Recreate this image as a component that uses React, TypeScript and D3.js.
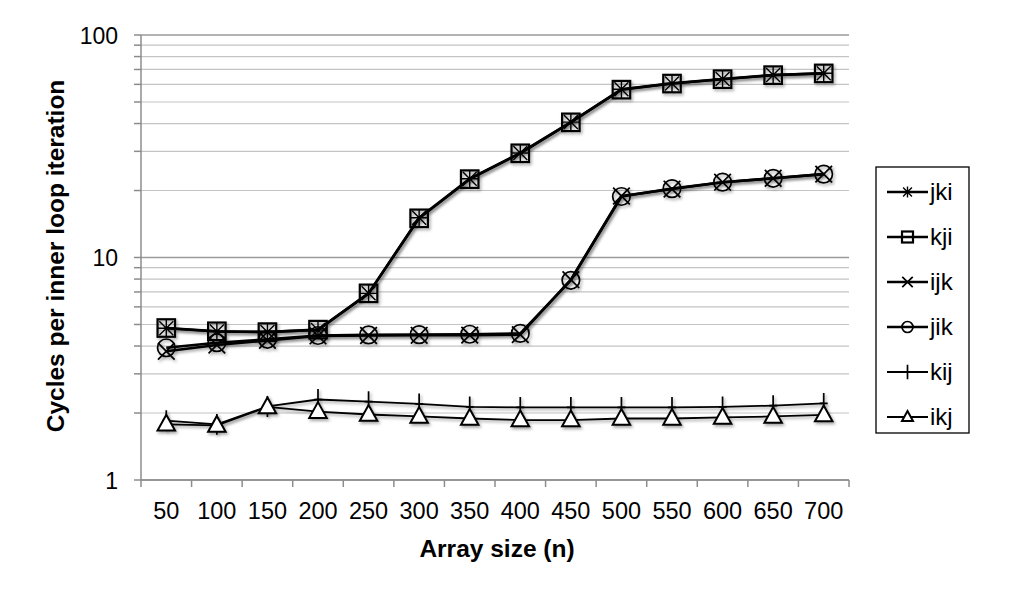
import React from "react";
import * as d3 from "d3";

const categories = ["50", "100", "150", "200", "250", "300", "350", "400", "450", "500", "550", "600", "650", "700"];
const seriesNames = ["jki", "kji", "ijk", "jik", "kij", "ikj"];
const jki = [4.81, 4.65, 4.63, 4.72, 6.9, 15.1, 22.6, 29.5, 40.6, 57, 60.6, 63.4, 66.1, 67.3];
const kji = [4.82, 4.66, 4.62, 4.74, 6.9, 15.0, 22.5, 29.4, 40.5, 56.8, 60.5, 63.3, 66.0, 67.2];
const ijk = [3.79, 4.04, 4.24, 4.44, 4.46, 4.47, 4.48, 4.5, 7.95, 18.9, 20.3, 21.8, 22.7, 23.7];
const jik = [3.93, 4.14, 4.29, 4.46, 4.49, 4.5, 4.52, 4.56, 7.9, 18.8, 20.4, 21.8, 22.7, 23.7];
const kij = [1.85, 1.78, 2.14, 2.3, 2.25, 2.2, 2.13, 2.12, 2.12, 2.12, 2.12, 2.13, 2.16, 2.21];
const ikj = [1.78, 1.76, 2.13, 2.03, 1.97, 1.93, 1.89, 1.86, 1.86, 1.89, 1.89, 1.91, 1.93, 1.96];
const yTickValues = [1, 10, 100];

const seriesValues = [jki, kji, ijk, jik, kij, ikj];
const markerKinds = ["asterisk", "square", "x", "circle", "plus", "triangle"];
const lineWidths = [2.6, 2.6, 2.6, 2.6, 1.8, 1.8];

const W = 1016, H = 590;
const M = { left: 141, right: 849, top: 35, bottom: 480 };
const FONT = "'Liberation Sans', Arial, Helvetica, sans-serif";

function Marker({ kind, x, y, s }: { kind: string; x: number; y: number; s: number }) {
  const h = s / 2;
  const common = { fill: "none", stroke: "#000", strokeWidth: 1.7 };
  if (kind === "square") return <rect x={x - h} y={y - h} width={s} height={s} {...common} strokeWidth={2.2} />;
  if (kind === "circle") return <circle cx={x} cy={y} r={h} {...common} />;
  if (kind === "x") {
    const d = h * 0.95;
    return <path d={`M${x - d},${y - d}L${x + d},${y + d}M${x - d},${y + d}L${x + d},${y - d}`} {...common} />;
  }
  if (kind === "plus") {
    const v = h * 1.3;
    return <path d={`M${x},${y - v}L${x},${y + v}M${x - h * 0.5},${y}L${x + h * 0.5},${y}`} {...common} />;
  }
  if (kind === "asterisk") {
    const d = h * 0.8;
    return (
      <path
        d={`M${x - d},${y - d}L${x + d},${y + d}M${x - d},${y + d}L${x + d},${y - d}M${x},${y - h}L${x},${y + h}M${x - h},${y}L${x + h},${y}`}
        {...common}
        strokeWidth={1.4}
      />
    );
  }
  if (kind === "triangle") {
    const th = s * 0.9;
    return (
      <path
        d={`M${x},${y - th * 0.6}L${x + h},${y + th * 0.4}L${x - h},${y + th * 0.4}Z`}
        fill="#fff"
        stroke="#000"
        strokeWidth={2}
      />
    );
  }
  return null;
}

export default function App() {
  const x = d3.scaleBand().domain(categories).range([M.left, M.right]).padding(0);
  const y = d3.scaleLog().domain([1, 100]).range([M.bottom, M.top]);
  const cx = (c: string) => (x(c) as number) + x.bandwidth() / 2;

  const gridVals: number[] = [];
  for (let dec = 1; dec < 100; dec *= 10) for (let k = 1; k <= 9; k++) gridVals.push(dec * k);
  gridVals.push(100);

  const line = d3
    .line<number>()
    .x((_, i) => cx(categories[i]))
    .y((v) => y(v));

  const xBoundaries = categories.map((c) => x(c) as number).concat([M.right]);

  const legendX = 876, legendY = 167, legendW = 93, legendH = 266;
  const legendStep = 45;

  return (
    <svg width={W} height={H} style={{ position: "absolute", left: 0, top: 0 }} fontFamily={FONT}>
      <defs>
        <filter id="sh" x="-10%" y="-10%" width="130%" height="140%">
          <feDropShadow dx="1.5" dy="2" stdDeviation="1.4" floodColor="#000" floodOpacity="0.35" />
        </filter>
      </defs>
      <rect x={0} y={0} width={W} height={H} fill="#fff" />
      {gridVals.map((g, i) => {
        const major = yTickValues.includes(g);
        return (
          <g key={i}>
            <line x1={M.left} x2={M.right} y1={y(g)} y2={y(g)} stroke={major ? "#9a9a9a" : "#c4c4c4"} strokeWidth={major ? 1.5 : 1.2} />
            <line x1={M.left - 7} x2={M.left} y1={y(g)} y2={y(g)} stroke="#8c8c8c" strokeWidth={1.5} />
          </g>
        );
      })}
      <line x1={M.left} x2={M.left} y1={M.top} y2={M.bottom} stroke="#8c8c8c" strokeWidth={1.5} />
      <line x1={M.left} x2={M.right} y1={M.bottom} y2={M.bottom} stroke="#8c8c8c" strokeWidth={1.5} />
      {xBoundaries.map((b, i) => (
        <line key={i} x1={b} x2={b} y1={M.bottom} y2={M.bottom + 7} stroke="#8c8c8c" strokeWidth={1.5} />
      ))}
      {yTickValues.map((t) => (
        <text key={t} x={118} y={y(t) + 8.5} textAnchor="end" fontSize={23} fill="#000">
          {t}
        </text>
      ))}
      {categories.map((c) => (
        <text key={c} x={cx(c)} y={519} textAnchor="middle" fontSize={23.5} fill="#000">
          {c}
        </text>
      ))}
      <text x={497} y={557} textAnchor="middle" fontSize={24.5} fontWeight="bold">
        Array size (n)
      </text>
      <text transform={`translate(64,256) rotate(-90)`} textAnchor="middle" fontSize={24.5} fontWeight="bold">
        Cycles per inner loop iteration
      </text>

      {seriesValues.map((vals, si) => (
        <g key={si} filter="url(#sh)">
          <path d={line(vals) || ""} fill="none" stroke="#000" strokeWidth={lineWidths[si]} strokeLinejoin="round" />
          {vals.map((v, i) => (
            <Marker key={i} kind={markerKinds[si]} x={cx(categories[i])} y={y(v)} s={markerKinds[si] === "plus" ? 16 : 17.5} />
          ))}
        </g>
      ))}

      <rect x={legendX} y={legendY} width={legendW} height={legendH} fill="#fff" stroke="#000" strokeWidth={1.3} />
      {seriesNames.map((n, i) => {
        const ly = legendY + 25 + i * legendStep;
        return (
          <g key={n}>
            <line x1={887} x2={928} y1={ly} y2={ly} stroke="#000" strokeWidth={lineWidths[i]} />
            <Marker kind={markerKinds[i]} x={907.5} y={ly} s={11} />
            <text x={930} y={ly + 8} fontSize={24} fill="#000">
              {n}
            </text>
          </g>
        );
      })}
    </svg>
  );
}
